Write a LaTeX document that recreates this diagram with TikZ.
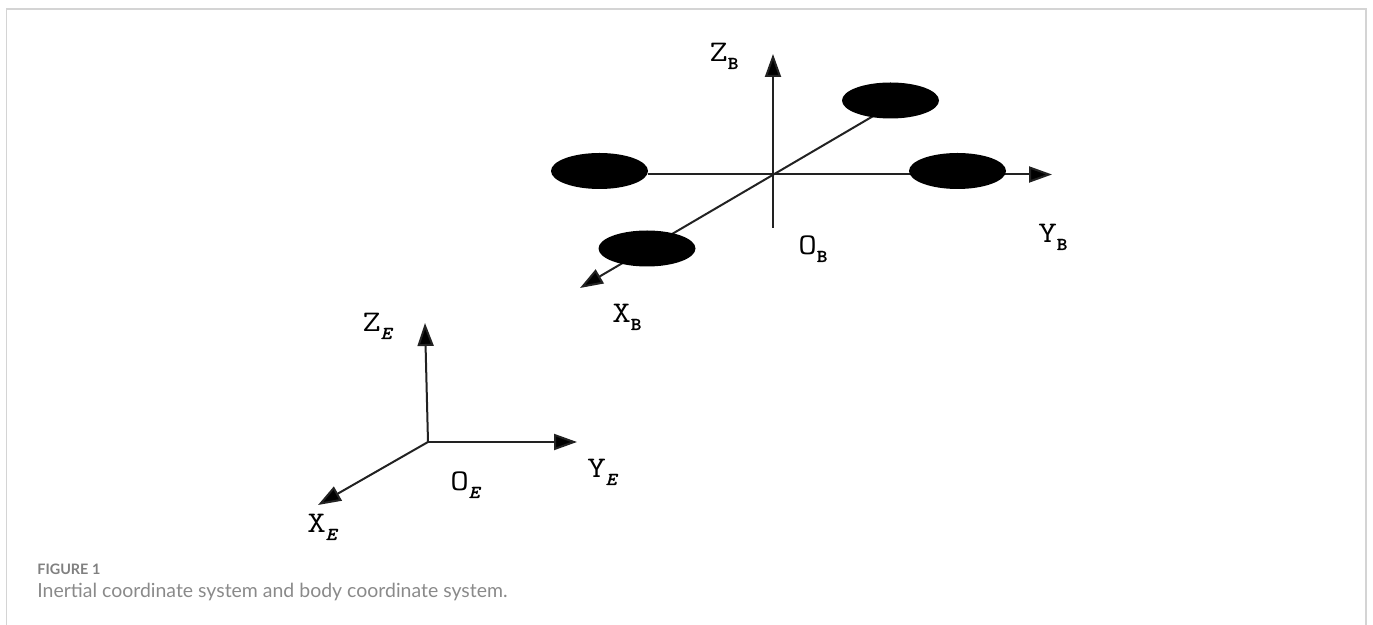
\documentclass[tikz,border=0pt]{standalone}
\usepackage{fontspec}
\setmainfont{Lato}
\newfontfamily\axisfont[FakeStretch=1.2]{Latin Modern Mono}
\newfontfamily\subfont[FakeStretch=1.1, FakeBold=1.6]{Latin Modern Mono}
\newfontfamily\subslantfont[FakeStretch=1.1, FakeBold=2.2, FakeSlant=0.25]{Latin Modern Mono}
\usetikzlibrary{arrows.meta, positioning, shapes.geometric, backgrounds}
\definecolor{frameline}{HTML}{D4D4D4}
\definecolor{captionhead}{HTML}{808080}
\definecolor{captiontext}{HTML}{8A8A8A}
\definecolor{axisline}{HTML}{222222}
\tikzset{
  x=0.5pt, y=-0.5pt,
  rotor/.style={ellipse, fill=black, draw=none, inner sep=0pt,
                minimum width=48.5pt, minimum height=18pt},
  axis/.style={-{Triangle[length=11.5pt, width=8pt, fill=black]}, draw=axisline, line width=1pt},
  axislabel/.style={font=\axisfont\fontsize{15}{18}\selectfont, text=black, inner sep=0pt, anchor=base west},
  caphead/.style={font=\bfseries\fontsize{7.2}{10}\selectfont, text=captionhead, inner sep=0pt, anchor=base west},
  captext/.style={font=\fontsize{9.73}{12}\selectfont, text=captiontext, inner sep=0pt, anchor=base west},
}
\newcommand{\axisname}[2]{#1\raisebox{-3.5pt}{\fontsize{9}{9}\selectfont #2}}
\begin{document}
\begin{tikzpicture}
\useasboundingbox (0,0) rectangle (1373,625);

% --- frame, open at the bottom ---
\draw[frameline, line width=0.8pt] (6.5,625) -- (6.5,9) -- (1366,9) -- (1366,625);

% --- body system ---
\coordinate (ob) at (773,174.5);
\coordinate (zbtop) at (773,54);
\coordinate (zbend) at (773,228);
\coordinate (ybtip) at (1052,174.5);
\coordinate (xbtip) at (580,288);
\coordinate (xbstart) at (875,115);

\node[rotor] (rotorback)  at (890.5,100.5) {};
\node[rotor] (rotorleft)  at (599.5,171) {};
\node[rotor] (rotorright) at (957.5,171) {};
\node[rotor] (rotorfront) at (647,248.5) {};

\begin{scope}[on background layer]
  \draw[axis] (zbend) -- (zbtop);
  \draw[axis] (rotorleft.east |- ob) -- (ybtip);
  \draw[axis] (xbstart) -- (xbtip);
\end{scope}

\node[axislabel] (zblabel) at (709,62) {\axisname{Z}{\subfont B}};
\node[axislabel] (yblabel) at (1038,243) {\axisname{Y}{\subfont B}};
\node[axislabel] (oblabel) at (798,255) {\axisname{O}{\subfont B}};
\node[axislabel] (xblabel) at (612,323) {\axisname{X}{\subfont B}};

% --- inertial system ---
\coordinate (oe) at (428,442);
\coordinate (zetip) at (425,323);
\coordinate (yetip) at (577,442);
\coordinate (xetip) at (318,505);

\draw[axis] (oe) -- (zetip);
\draw[axis] (oe) -- (yetip);
\draw[axis] (oe) -- (xetip);

\node[axislabel] (zelabel) at (362,332) {\axisname{Z}{\subslantfont E}};
\node[axislabel] (yelabel) at (587,478) {\axisname{Y}{\subslantfont E}};
\node[axislabel] (oelabel) at (450,491) {\axisname{O}{\subslantfont E}};
\node[axislabel] (xelabel) at (307,533) {\axisname{X}{\subslantfont E}};

% --- caption ---
\node[caphead] (capone) at (37,575) {FIGURE 1};
\node[captext] (captwo) at (37,598) {Inertial coordinate system and body coordinate system.};
\end{tikzpicture}
\end{document}
